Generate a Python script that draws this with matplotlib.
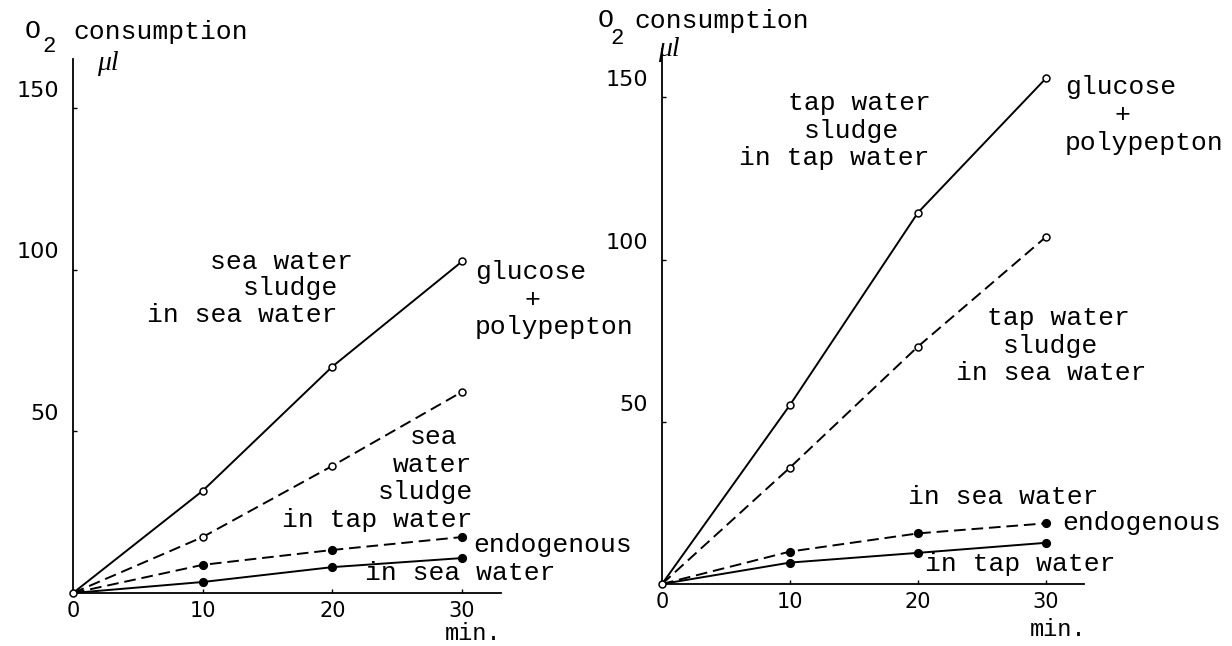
#! /usr/bin/env python3
# coding: utf-8

import matplotlib
matplotlib.use('Agg')
import matplotlib.pyplot as plt
from matplotlib.transforms import ScaledTranslation

W, H = 1232, 646
MONO = 'Liberation Mono'

minutes = [0, 10, 20, 30]

# sea water sludge
sea_glucose_in_sea = [0, 31.6, 70.0, 102.5]
sea_glucose_in_tap = [0, 17.3, 39.3, 62.2]
sea_endo_in_tap = [0, 8.7, 13.3, 17.3]
sea_endo_in_sea = [0, 3.4, 8.0, 10.8]

# tap water sludge
tap_glucose_in_tap = [0, 55.2, 114.5, 155.9]
tap_glucose_in_sea = [0, 35.9, 73.2, 107.0]
tap_endo_in_sea = [0, 10.0, 15.6, 18.7]
tap_endo_in_tap = [0, 6.6, 9.6, 12.7]

x_ticks = [0, 10, 20, 30]
y_ticks = [50, 100, 150]


def fx(px):
    return px / W


def fy(py):
    return 1 - py / H


def txt(fig, s, x, y, size=19, **kw):
    kw.setdefault('family', MONO)
    fig.text(fx(x), fy(y), s, fontsize=size, ha=kw.pop('ha', 'left'),
             va='center', **kw)


def series(ax, y, dashed, filled):
    ls = (0, (6, 3)) if dashed else '-'
    ax.plot(minutes, y, color='k', linestyle=ls, lw=1.4, marker='o',
            markevery=[1, 2, 3], ms=5.5 if filled else 5,
            mfc='k' if filled else 'white', mec='k', mew=1.1, clip_on=False)


def panel(fig, left, bottom, px_x, px_y):
    ax = fig.add_axes([fx(left), fy(bottom), 33 * px_x / W, 165 * px_y / H])
    ax.set_xlim(0, 33)
    ax.set_ylim(0, 165)
    for s in ['top', 'right']:
        ax.spines[s].set_visible(False)
    for s in ['left', 'bottom']:
        ax.spines[s].set_linewidth(1.3)
    ax.set_xticks(x_ticks)
    ax.set_yticks(y_ticks)
    ax.tick_params(direction='in', length=3, width=1, labelsize=16)
    ax.tick_params(axis='x', pad=6, labelsize=15)
    ax.tick_params(axis='y', pad=10)
    off = ScaledTranslation(0, 19 / 100, fig.dpi_scale_trans)
    for lab in ax.get_yticklabels():
        lab.set_transform(lab.get_transform() + off)
    return ax


fig = plt.figure(figsize=(W / 100, H / 100), dpi=100)

ax1 = panel(fig, 73, 593, 12.97, 3.235)
series(ax1, sea_glucose_in_sea, False, False)
series(ax1, sea_glucose_in_tap, True, False)
series(ax1, sea_endo_in_tap, True, True)
series(ax1, sea_endo_in_sea, False, True)
ax1.plot(minutes[0], sea_glucose_in_sea[0], 'o', ms=5, mfc='white',
         mec='k', mew=1.1, clip_on=False, zorder=5)

ax2 = panel(fig, 662, 584, 12.8, 3.244)
series(ax2, tap_glucose_in_tap, False, False)
series(ax2, tap_glucose_in_sea, True, False)
series(ax2, tap_endo_in_sea, True, True)
series(ax2, tap_endo_in_tap, False, True)
ax2.plot(minutes[0], tap_glucose_in_tap[0], 'o', ms=5, mfc='white',
         mec='k', mew=1.1, clip_on=False, zorder=5)

# axis titles
txt(fig, 'O', 25, 31)
txt(fig, '2', 42, 47, size=16)
txt(fig, 'consumption', 73, 32)
txt(fig, '\u03bcl', 97, 64, size=20, family='Liberation Serif', style='italic')
txt(fig, 'min.', 445, 634, size=17)

txt(fig, 'O', 598, 20)
txt(fig, '2', 610, 38, size=16)
txt(fig, 'consumption', 634, 21)
txt(fig, '\u03bcl', 658, 50, size=20, family='Liberation Serif', style='italic')
txt(fig, 'min.', 1030, 630, size=17)

# left panel labels
txt(fig, 'sea water', 210, 262)
txt(fig, 'sludge', 243, 288)
txt(fig, 'in sea water', 147, 315)
txt(fig, 'glucose', 475, 272)
txt(fig, '+', 524, 300)
txt(fig, 'polypepton', 475, 327)
txt(fig, 'sea', 410, 437)
txt(fig, 'water', 393, 465)
txt(fig, 'sludge', 378, 492)
txt(fig, 'in tap water', 282, 520)
txt(fig, 'endogenous', 473, 545)
txt(fig, 'in sea water', 365, 573)

# right panel labels
txt(fig, 'tap water', 788, 103)
txt(fig, 'sludge', 804, 131)
txt(fig, 'in tap water', 739, 158)
txt(fig, 'glucose', 1065, 87)
txt(fig, '+', 1114, 115)
txt(fig, 'polypepton', 1065, 143)
txt(fig, 'tap water', 987, 318)
txt(fig, 'sludge', 1003, 346)
txt(fig, 'in sea water', 956, 373)
txt(fig, 'in sea water', 908, 497)
txt(fig, 'endogenous', 1062, 523)
txt(fig, 'in tap water', 925, 564)

fig.savefig('out.png', dpi=100, facecolor='white')
